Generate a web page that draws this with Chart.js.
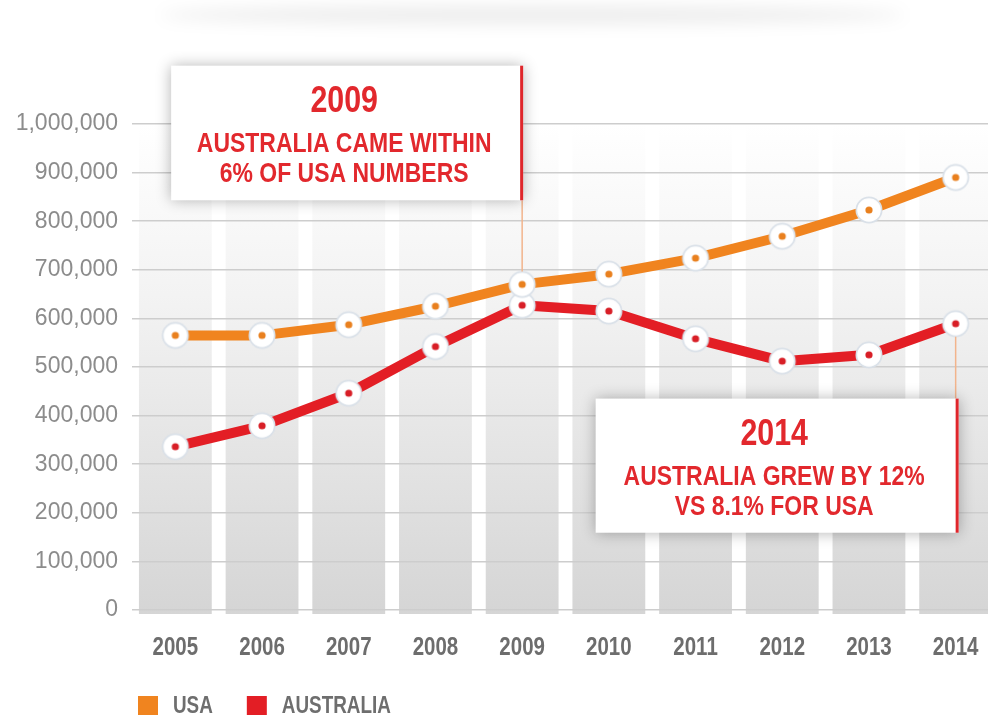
<!DOCTYPE html>
<html>
<head>
<meta charset="utf-8">
<script src="https://cdn.jsdelivr.net/npm/chart.js@4.4.1/dist/chart.umd.min.js"></script>
<style>
  html, body { margin: 0; padding: 0; background: #fff; overflow: hidden; }
  #wrap { position: relative; width: 1000px; height: 719px; }
  #sombra-sup {
    position: absolute; left: 160px; top: 6px; width: 745px; height: 18px;
    background: rgba(0, 0, 0, 0.075); border-radius: 50%;
    filter: blur(8px);
  }
  #visitantes { position: relative; }
</style>
</head>
<body>
<div id="wrap">
  <div id="sombra-sup"></div>
  <canvas id="visitantes"></canvas>
</div>
<script>
const anios = ["2005", "2006", "2007", "2008", "2009", "2010", "2011", "2012", "2013", "2014"];
const nombres = ["USA", "AUSTRALIA"];
const usa = [565000, 565000, 587000, 625000, 670000, 691000, 724000, 769000, 823000, 890000];
const australia = [336000, 379000, 446000, 542000, 627000, 615000, 558000, 512000, 525000, 589000];
const marcasY = [0, 100000, 200000, 300000, 400000, 500000, 600000, 700000, 800000, 900000, 1000000];
const colores = ["#f0841f", "#e31e25"];

// textos de las notas: año, serie a la que apuntan y líneas
const notas = [
  { anio: "2009", serie: 0, titulo: "2009", texto: ["AUSTRALIA CAME WITHIN", "6% OF USA NUMBERS"] },
  { anio: "2014", serie: 1, titulo: "2014", texto: ["AUSTRALIA GREW BY 12%", "VS 8.1% FOR USA"] },
];
// ubicación de cada caja (en valores del eje y)
const cajas = [
  { ancho: 352, arriba: 1120000, abajo: 843000, dx: 1 },
  { ancho: 363, arriba: 435000, abajo: 159000, dx: 3 },
];

const FUENTE = "'Liberation Sans', Arial, sans-serif";
const ANGOSTO = 0.82; // compresión horizontal para imitar la letra condensada

// escribe texto comprimido horizontalmente
function textoAngosto(ctx, texto, x, y) {
  ctx.fillText(texto, x, y, ctx.measureText(texto).width * ANGOSTO);
}

// marcador: círculo blanco con anillo gris y punto central del color de la serie
function marcador(color) {
  const c = document.createElement("canvas");
  c.width = 32;
  c.height = 32;
  const g = c.getContext("2d");
  g.beginPath();
  g.arc(16, 16, 13.5, 0, Math.PI * 2);
  g.fillStyle = "#d9e0e8";
  g.fill();
  g.beginPath();
  g.arc(16, 16, 11.8, 0, Math.PI * 2);
  g.fillStyle = "#ffffff";
  g.fill();
  g.beginPath();
  g.arc(16, 16, 3.6, 0, Math.PI * 2);
  g.fillStyle = color;
  g.fill();
  return c;
}

// columnas grises de fondo, una por año
const columnas = {
  id: "columnas",
  beforeDraw(chart) {
    const { ctx, chartArea } = chart;
    const x = chart.scales.x;
    const paso = x.getPixelForValue(1) - x.getPixelForValue(0);
    const ancho = paso * 0.84;
    const grad = ctx.createLinearGradient(0, chartArea.top, 0, chartArea.bottom + 4);
    grad.addColorStop(0, "#ffffff");
    grad.addColorStop(0.35, "#f3f3f3");
    grad.addColorStop(1, "#d5d5d5");
    ctx.save();
    ctx.fillStyle = grad;
    anios.forEach((a, i) => {
      const cx = x.getPixelForValue(i);
      ctx.fillRect(cx - ancho / 2, chartArea.top, ancho, chartArea.bottom - chartArea.top + 4);
    });
    ctx.restore();
  },
};

// años bajo el eje y leyenda, con letra condensada
const textosEje = {
  id: "textosEje",
  afterDraw(chart) {
    const { ctx, chartArea } = chart;
    const x = chart.scales.x;
    ctx.save();
    ctx.textAlign = "center";
    ctx.textBaseline = "middle";
    ctx.fillStyle = "#6d6d6d";
    ctx.font = "bold 25px " + FUENTE;
    anios.forEach((a, i) => textoAngosto(ctx, a, x.getPixelForValue(i), chartArea.bottom + 38));

    // leyenda
    let lx = 138;
    const ly = chartArea.bottom + 96;
    ctx.textAlign = "left";
    ctx.font = "bold 23px " + FUENTE;
    nombres.forEach((n, i) => {
      ctx.fillStyle = colores[i];
      ctx.fillRect(lx, ly - 10, 20, 19);
      lx += 35;
      ctx.fillStyle = "#6e6e6e";
      textoAngosto(ctx, n, lx, ly + 1);
      lx += ctx.measureText(n).width * ANGOSTO + 34;
    });
    ctx.restore();
  },
};

// cajas de notas con su línea guía
const cajasNotas = {
  id: "cajasNotas",
  afterDraw(chart) {
    const ctx = chart.ctx;
    const x = chart.scales.x;
    const y = chart.scales.y;
    notas.forEach((n, i) => {
      const caja = cajas[i];
      const idx = anios.indexOf(n.anio);
      const px = x.getPixelForValue(idx);
      const punto = chart.getDatasetMeta(n.serie).data[idx];
      const der = px + caja.dx;
      const izq = der - caja.ancho;
      const sup = y.getPixelForValue(caja.arriba);
      const inf = y.getPixelForValue(caja.abajo);

      ctx.save();
      ctx.strokeStyle = "#f2b48c";
      ctx.lineWidth = 1.5;
      ctx.beginPath();
      if (punto.y > inf) {
        ctx.moveTo(px, inf);
        ctx.lineTo(px, punto.y - 13);
      } else {
        ctx.moveTo(px, punto.y + 13);
        ctx.lineTo(px, sup);
      }
      ctx.stroke();

      ctx.shadowColor = "rgba(0, 0, 0, 0.3)";
      ctx.shadowBlur = 14;
      ctx.shadowOffsetY = 0;
      ctx.fillStyle = "#ffffff";
      ctx.fillRect(izq, sup, der - izq, inf - sup);
      ctx.shadowColor = "transparent";
      ctx.fillStyle = "#df262b";
      ctx.fillRect(der - 3, sup, 3, inf - sup);

      const cx = (izq + der) / 2 - 3;
      ctx.textAlign = "center";
      ctx.textBaseline = "alphabetic";
      ctx.fillStyle = "#e2282d";
      ctx.font = "bold 37px " + FUENTE;
      textoAngosto(ctx, n.titulo, cx, sup + 46);
      ctx.font = "bold 28px " + FUENTE;
      n.texto.forEach((t, k) => textoAngosto(ctx, t, cx, sup + 86 + k * 30));
      ctx.restore();
    });
  },
};

const lienzo = document.getElementById("visitantes");
lienzo.width = 1000;
lienzo.height = 719;

new Chart(lienzo, {
  type: "line",
  data: {
    labels: anios,
    datasets: [
      {
        label: nombres[0],
        data: usa,
        borderColor: colores[0],
        backgroundColor: colores[0],
        borderWidth: 10,
        borderJoinStyle: "round",
        tension: 0,
        pointStyle: marcador("#e9801e"),
        pointRadius: 13,
        clip: false,
      },
      {
        label: nombres[1],
        data: australia,
        borderColor: colores[1],
        backgroundColor: colores[1],
        borderWidth: 10,
        borderJoinStyle: "round",
        tension: 0,
        pointStyle: marcador("#d81e26"),
        pointRadius: 13,
        clip: false,
      },
    ],
  },
  options: {
    responsive: false,
    animation: false,
    events: [],
    layout: {
      autoPadding: false,
      padding: { top: 124, right: 1, left: 0, bottom: 0 },
    },
    plugins: {
      legend: { display: false },
      tooltip: { enabled: false },
    },
    scales: {
      x: {
        offset: true,
        grid: { display: false, drawTicks: false },
        border: { display: false },
        ticks: { display: false },
        afterFit(scale) {
          scale.height = 109;
        },
      },
      y: {
        min: 0,
        max: 1000000,
        afterBuildTicks(scale) {
          scale.ticks = marcasY.map((v) => ({ value: v }));
        },
        grid: { color: "#cdcdcd", lineWidth: 1.5, drawTicks: false },
        border: { display: false },
        ticks: {
          padding: 14,
          color: "#8c8c8c",
          font: { size: 23, family: FUENTE },
          callback: (v) => v.toLocaleString("en-US"),
        },
        afterFit(scale) {
          scale.width = 132;
        },
      },
    },
  },
  plugins: [columnas, textosEje, cajasNotas],
});
</script>
</body>
</html>
